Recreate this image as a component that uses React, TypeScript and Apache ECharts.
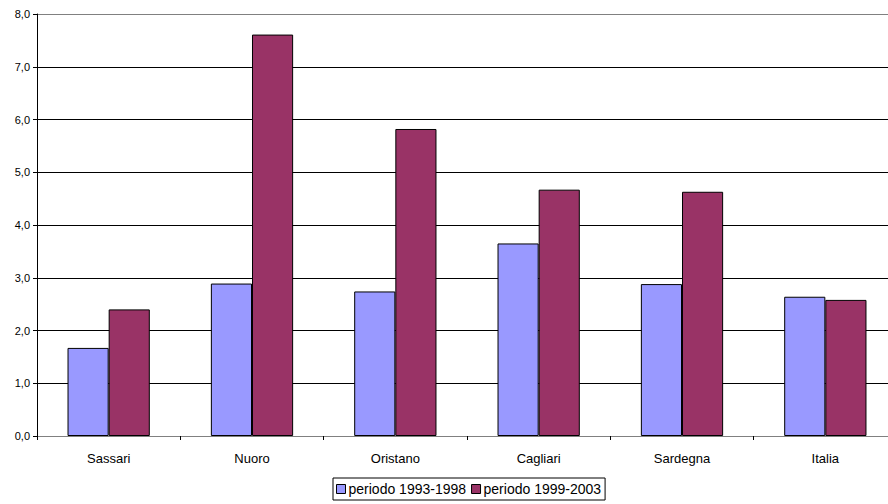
import React, { useEffect, useRef } from "react";
import * as echarts from "echarts";

const categories = ["Sassari", "Nuoro", "Oristano", "Cagliari", "Sardegna", "Italia"];
const period1 = [1.67, 2.89, 2.74, 3.65, 2.88, 2.64];
const period2 = [2.4, 7.61, 5.82, 4.67, 4.63, 2.58];
const seriesNames = ["periodo 1993-1998", "periodo 1999-2003"];

export default function App() {
  const ref = useRef<HTMLDivElement>(null);
  useEffect(() => {
    if (!ref.current) return;
    const chart = echarts.init(ref.current, null, { renderer: "svg" });
    const font = "Liberation Sans, Arial, sans-serif";
    chart.setOption({
      animation: false,
      backgroundColor: "#ffffff",
      grid: { left: 37, top: 14, width: 860, height: 422, containLabel: false },
      legend: {
        left: 333,
        top: 478,
        data: seriesNames,
        icon: "rect",
        itemWidth: 9,
        itemHeight: 9,
        itemGap: 5,
        padding: [4, 4, 4, 3],
        borderColor: "#000",
        borderWidth: 1,
        itemStyle: { borderColor: "#000", borderWidth: 1 },
        textStyle: { fontFamily: font, fontSize: 14, color: "#000", padding: [0, 0, 0, -2] },
      },
      xAxis: {
        type: "category",
        data: categories,
        axisLine: { lineStyle: { color: "#808080", width: 1 } },
        axisTick: { show: true, length: 4, lineStyle: { color: "#000" } },
        axisLabel: { fontFamily: font, fontSize: 13, color: "#000", margin: 16 },
      },
      yAxis: {
        type: "value",
        min: 0,
        max: 8,
        interval: 1,
        axisLine: { show: true, lineStyle: { color: "#000", width: 1 } },
        axisTick: { show: true, length: 4, lineStyle: { color: "#000" } },
        axisLabel: {
          fontFamily: font,
          fontSize: 11,
          color: "#000",
          margin: 7,
          formatter: (v: number) => v.toFixed(1).replace(".", ","),
        },
        splitLine: {
          show: true,
          lineStyle: {
            color: ["#000", "#000", "#000", "#000", "#000", "#000", "#000", "#000", "#808080"],
            width: 1,
          },
        },
      },
      series: [
        {
          name: seriesNames[0],
          type: "bar",
          data: period1,
          barGap: "0%",
          barCategoryGap: "42.6%",
          itemStyle: { color: "#9999FF", borderColor: "#000", borderWidth: 1 },
        },
        {
          name: seriesNames[1],
          type: "bar",
          data: period2,
          itemStyle: { color: "#993366", borderColor: "#000", borderWidth: 1 },
        },
      ],
    });
    return () => chart.dispose();
  }, []);
  return (
    <div
      style={{
        position: "fixed",
        left: 0,
        top: 0,
        width: 888,
        height: 504,
        overflow: "hidden",
        background: "#fff",
      }}
    >
      <div ref={ref} style={{ width: 910, height: 504 }} />
    </div>
  );
}
